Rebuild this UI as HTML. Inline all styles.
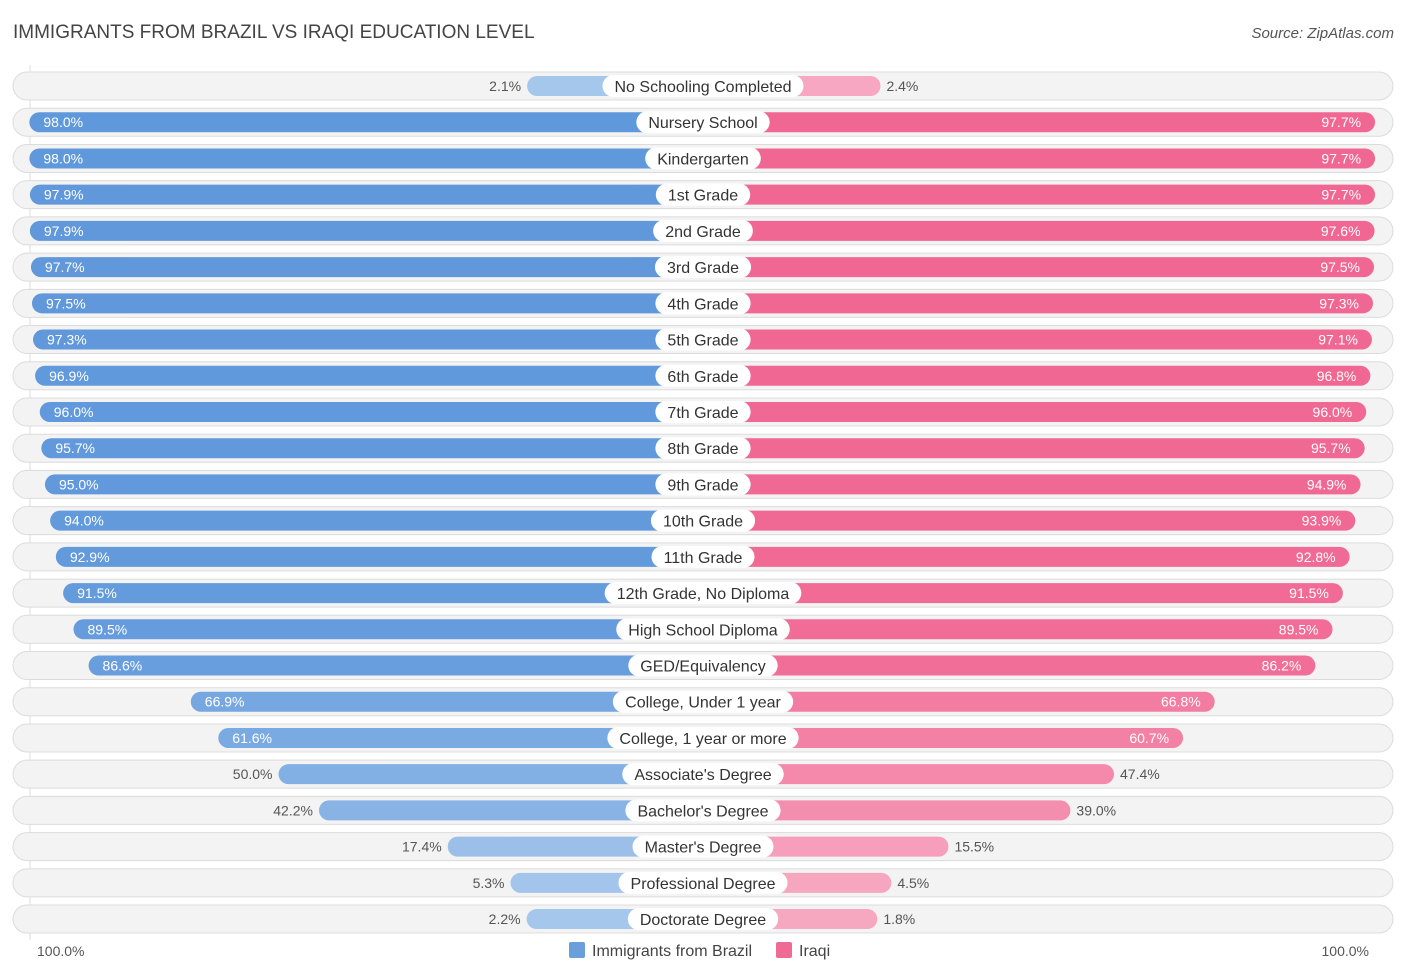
<!DOCTYPE html>
<html><head><meta charset="utf-8"><style>
body{margin:0;width:1406px;height:975px;background:#fff;font-family:"Liberation Sans",sans-serif;position:relative;overflow:hidden}
.t{position:absolute;white-space:nowrap}
</style></head><body>
<div class="t" style="left:13px;top:22px;font-size:19px;color:#444">IMMIGRANTS FROM BRAZIL VS IRAQI EDUCATION LEVEL</div>
<div class="t" style="right:12px;top:25px;font-size:15px;color:#555;font-style:italic">Source: ZipAtlas.com</div>
<svg id="c" width="1406" height="975" style="position:absolute;left:0;top:0"></svg>
<script>
const categories=["No Schooling Completed","Nursery School","Kindergarten","1st Grade","2nd Grade","3rd Grade","4th Grade","5th Grade","6th Grade","7th Grade","8th Grade","9th Grade","10th Grade","11th Grade","12th Grade, No Diploma","High School Diploma","GED/Equivalency","College, Under 1 year","College, 1 year or more","Associate's Degree","Bachelor's Degree","Master's Degree","Professional Degree","Doctorate Degree"];
const brazil=[2.1,98.0,98.0,97.9,97.9,97.7,97.5,97.3,96.9,96.0,95.7,95.0,94.0,92.9,91.5,89.5,86.6,66.9,61.6,50.0,42.2,17.4,5.3,2.2];
const iraqi=[2.4,97.7,97.7,97.7,97.6,97.5,97.3,97.1,96.8,96.0,95.7,94.9,93.9,92.8,91.5,89.5,86.2,66.8,60.7,47.4,39.0,15.5,4.5,1.8];
const svg=document.getElementById('c'),NS='http://www.w3.org/2000/svg';
const cx=703,off=165,k=5.19,y0=86,dy=36.22;
const w=v=>off+v*k;
function mix(a,b,t){return 'rgb('+a.map((x,i)=>Math.round(x+(b[i]-x)*t)).join(',')+')';}
const bL=[168,200,236],bS=[94,151,219],pL=[247,169,194],pS=[240,101,146];
function el(tag,attrs,txt){const e=document.createElementNS(NS,tag);for(const a in attrs)e.setAttribute(a,attrs[a]);if(txt!=null)e.textContent=txt;svg.appendChild(e);return e;}
const gl=el('line',{x1:30,x2:30,y1:65,y2:940,stroke:'#ddd','stroke-width':1});


categories.forEach((c,i)=>{
 const y=y0+i*dy;
 const bg=el('rect',{x:13,y:y-14,width:1380,height:28,rx:14,fill:'#f3f3f3',stroke:'#dcdcdc','stroke-width':1});
 
 
 const tb=Math.min(1,brazil[i]/100),ti=Math.min(1,iraqi[i]/100);
 const lb=el('rect',{x:cx-w(brazil[i]),y:y-10,width:w(brazil[i]),height:20,rx:10,fill:mix(bL,bS,tb)});
 
 
 const rb=el('rect',{x:cx,y:y-10,width:w(iraqi[i]),height:20,rx:10,fill:mix(pL,pS,ti)});
 
 
 const inB=brazil[i]>55,inI=iraqi[i]>55;
 const vb=el('text',{x:inB?cx-w(brazil[i])+14:cx-w(brazil[i])-6,y:y+5,'font-size':14,fill:inB?'#fff':'#555','text-anchor':inB?'start':'end'},brazil[i].toFixed(1)+'%');
 
 
 const vi=el('text',{x:inI?cx+w(iraqi[i])-14:cx+w(iraqi[i])+6,y:y+5,'font-size':14,fill:inI?'#fff':'#555','text-anchor':inI?'end':'start'},iraqi[i].toFixed(1)+'%');
 
 
 const lbl=el('text',{x:cx,y:y+6,'font-size':16,fill:'#333','text-anchor':'middle'},c);
 const tw=lbl.getBBox().width+24;
 const pill=el('rect',{x:cx-tw/2,y:y-11,width:tw,height:22,rx:11,fill:'#fff'});
 
 
 svg.insertBefore(pill,lbl);
 
 
});
const a1=el('text',{x:37,y:956,'font-size':14,fill:'#555'},'100.0%');


const a2=el('text',{x:1369,y:956,'font-size':14,fill:'#555','text-anchor':'end'},'100.0%');


const s1=el('rect',{x:569,y:942,width:16,height:16,rx:2,fill:'#6a9fdc'});


const t1=el('text',{x:592,y:956,'font-size':16,fill:'#444'},'Immigrants from Brazil');


const s2=el('rect',{x:776,y:942,width:16,height:16,rx:2,fill:'#f06a96'});


const t2=el('text',{x:799,y:956,'font-size':16,fill:'#444'},'Iraqi');


</script>
</body></html>
